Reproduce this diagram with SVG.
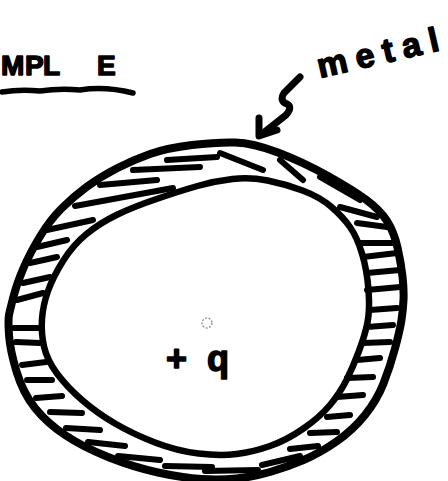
<svg xmlns="http://www.w3.org/2000/svg" width="448" height="481" viewBox="0 0 448 481">
<style>
.ink{fill:none;stroke:#000;stroke-linecap:round;stroke-linejoin:round}
.edge{stroke-width:8}
.edge2{stroke-width:6.5}
.hatch{stroke-width:6}
.hand{font-family:"Liberation Sans","DejaVu Sans",sans-serif;font-weight:bold;fill:#000;stroke:#000;stroke-width:1.5;stroke-linejoin:round}
</style>
<rect width="448" height="481" fill="#fff"/>
<g id="title">
<text class="hand" x="1 25 43 97" y="75" font-size="28">MPLE</text>
<path class="ink" stroke-width="5.5" d="M2,92 Q20,89 40,91 Q60,88 80,90 Q105,86 133,93"/>
</g>
<g id="metal-label">
<text class="hand" font-size="34" transform="translate(320,78) rotate(-13)" textLength="124" lengthAdjust="spacing">metal</text>
</g>
<g id="shell">
<path class="ink edge" d="M192,145 Q217,142 235,142.5 Q253,143 278,152.5 Q303,162 328,176 Q353,190 366.5,200 Q380,210 387,221 Q394,232 397.5,247.5 Q401,263 402.5,276.5 Q404,290 403.5,300 Q403,310 401.5,320 Q400,330 395,348.5 Q390,367 383.5,383.5 Q377,400 365,415 Q353,430 336.5,441.5 Q320,453 303.5,460 Q287,467 270,472 Q253,477 236.5,478.5 Q220,480 201.5,479 Q183,478 158,472.5 Q133,467 108,457 Q83,447 65,435 Q47,423 35,408 Q23,393 16.5,371.5 Q10,350 9,335 Q8,320 9,315 Q10,310 13.5,296.5 Q17,283 23.5,268 Q30,253 40,236.5 Q50,220 61.5,208.5 Q73,197 86.5,187 Q100,177 116.5,168.5 Q133,160 150,154 Q167,148 192,145 Z"/>
<path class="ink edge2" d="M197.5,186 Q215,181 232.5,179 Q250,177 267.5,180.5 Q285,184 302.5,190.5 Q320,197 331.5,207 Q343,217 350,227 Q357,237 362,253.5 Q367,270 368.5,290 Q370,310 367.5,322.5 Q365,335 359,351 Q353,367 346.5,380 Q340,393 330,405 Q320,417 303.5,428.5 Q287,440 270,446 Q253,452 236.5,454 Q220,456 198.5,453.5 Q177,451 155,442.5 Q133,434 115,423.5 Q97,413 82,400 Q67,387 57,373.5 Q47,360 44,346.5 Q41,333 42,319 Q43,305 48,291 Q53,277 63,261 Q73,245 86.5,234 Q100,223 116.5,215 Q133,207 156.5,199 Q180,191 197.5,186 Z"/>
<g class="ink hatch">
<path d="M75,206 L173,188"/>
<path d="M47,230 L93,220"/>
<path d="M37,247 L67,240"/>
<path d="M100,185 L157,180"/>
<path d="M133,170 L200,167"/>
<path d="M167,160 L217,157"/>
<path d="M30,263 L57,257"/>
<path d="M23,283 L50,277"/>
<path d="M17,300 L43,293"/>
<path d="M14,328 L38,328"/>
<path d="M16,342 L40,343"/>
<path d="M22,365 L46,362"/>
<path d="M27,380 L52,380"/>
<path d="M36,398 L62,396"/>
<path d="M50,412 L82,413"/>
<path d="M66,428 L100,430"/>
<path d="M88,442 L125,446"/>
<path d="M118,456 L160,460"/>
<path d="M165,466 L212,467"/>
<path d="M205,471 L258,470"/>
<path d="M262,465 L300,456"/>
<path d="M290,449 L318,446"/>
<path d="M310,433 L337,432"/>
<path d="M327,417 L350,415"/>
<path d="M337,397 L363,395"/>
<path d="M347,378 L373,377"/>
<path d="M357,360 L380,358"/>
<path d="M363,343 L390,342"/>
<path d="M367,327 L393,325"/>
<path d="M370,310 L397,308"/>
<path d="M367,290 L400,287"/>
<path d="M367,273 L400,270"/>
<path d="M363,257 L397,253"/>
<path d="M360,243 L393,243"/>
<path d="M357,223 L387,227"/>
<path d="M340,207 L377,217"/>
<path d="M320,177 L360,200"/>
<path d="M280,160 L303,180"/>
<path d="M220,153 L263,170"/>
</g>
</g>
<g id="charge">
<circle cx="207" cy="323" r="5" fill="none" stroke="#999" stroke-width="1.5" stroke-dasharray="2 1.5"/>
<text class="hand" x="166 207" y="371" font-size="36">+q</text>
</g>
<g id="connectors">
<path class="ink" stroke-width="7" d="M300,77 L284,93 Q279,101 287,104 Q293,107 286,115 L262,134"/>
<path class="ink" stroke-width="7" d="M259,118 L259,136 L277,130"/>
</g>
</svg>
